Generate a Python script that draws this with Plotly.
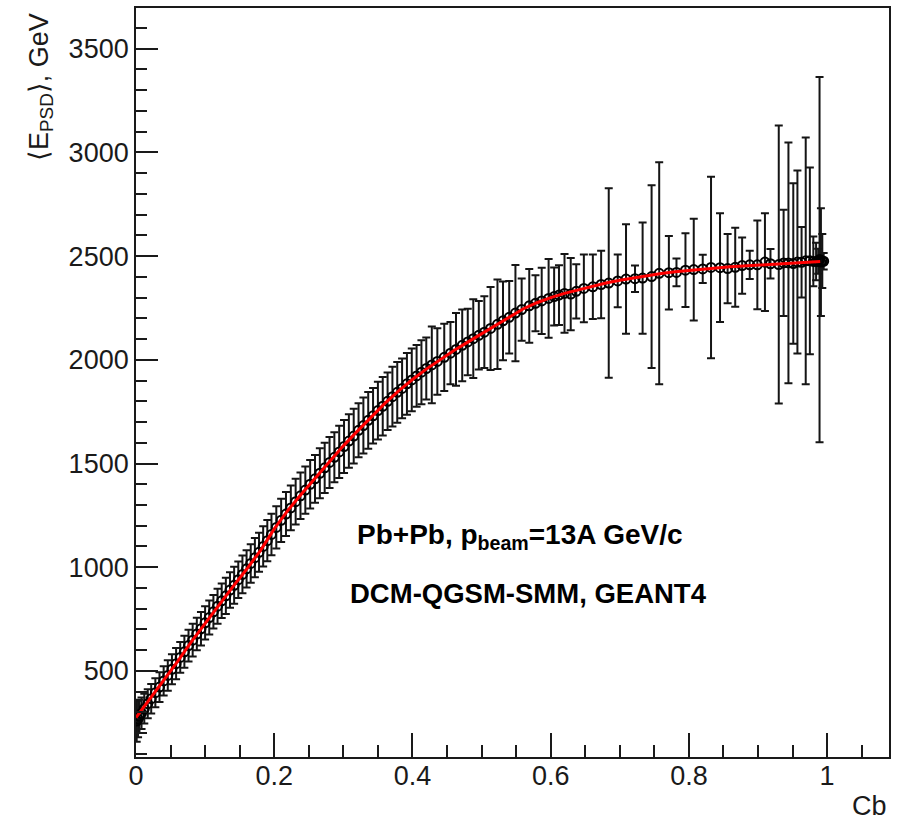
import plotly.graph_objects as go

# ---- data ----
cb_values = [
    0.001, 0.003, 0.005, 0.008, 0.012, 0.017, 0.022, 0.028, 0.034, 0.040,
    0.046, 0.052, 0.058, 0.064, 0.070, 0.076, 0.082, 0.088, 0.094, 0.100,
    0.106, 0.112, 0.118, 0.124, 0.130, 0.136, 0.142, 0.148, 0.154, 0.160,
    0.166, 0.172, 0.178, 0.184, 0.190, 0.196,
    0.203, 0.210, 0.217, 0.224, 0.231, 0.238, 0.245, 0.252, 0.259, 0.266,
    0.273, 0.280, 0.287, 0.294, 0.301, 0.308, 0.315, 0.322, 0.329, 0.336,
    0.343, 0.350, 0.357, 0.364, 0.371, 0.378, 0.385, 0.392, 0.399, 0.406,
    0.413,
    0.420, 0.428, 0.436, 0.446, 0.455, 0.463, 0.472, 0.480, 0.488, 0.496,
    0.504, 0.513, 0.523, 0.531, 0.540, 0.549, 0.558, 0.569, 0.578, 0.587,
    0.597, 0.605, 0.612, 0.620, 0.629,
    0.637, 0.648, 0.661, 0.673, 0.684, 0.697, 0.709, 0.722, 0.733, 0.746,
    0.757, 0.771, 0.782, 0.795, 0.807, 0.820, 0.832, 0.845, 0.856, 0.867,
    0.877, 0.888, 0.899, 0.910, 0.918, 0.930, 0.937, 0.944, 0.951, 0.957,
    0.963, 0.969, 0.975, 0.980, 0.984, 0.987, 0.989, 0.991, 0.993, 0.995,
]
e_psd_mean = [
    258, 268, 281, 296, 318, 342, 366, 395, 422, 452,
    478, 508, 535, 565, 592, 622, 648, 678, 703, 732,
    757, 785, 812, 838, 862, 890, 913, 940, 965, 992,
    1018, 1046, 1072, 1100, 1128, 1158,
    1192, 1226, 1256, 1286, 1316, 1344, 1372, 1400, 1426, 1453,
    1479, 1505, 1530, 1556, 1582, 1608, 1632, 1660, 1683, 1708,
    1730, 1755, 1776, 1800, 1822, 1843, 1862, 1884, 1903, 1922,
    1940,
    1958, 1975, 1992, 2012, 2032, 2050, 2070, 2086, 2102, 2118,
    2133, 2151, 2171, 2188, 2205, 2225, 2242, 2260, 2272, 2284,
    2296, 2305, 2312, 2320, 2317,
    2330, 2344, 2352, 2363, 2370, 2380, 2389, 2391, 2394, 2401,
    2417, 2420, 2421, 2432, 2435, 2438, 2445, 2444, 2440, 2446,
    2454, 2458, 2458, 2471, 2463, 2459, 2467, 2467, 2464, 2471,
    2470, 2477, 2477, 2474, 2474, 2475, 2483, 2471, 2476, 2475,
]
e_psd_err = [
    100, 88, 80, 76, 72, 70, 71, 70, 72, 71,
    73, 72, 75, 74, 77, 76, 79, 78, 81, 80,
    82, 81, 84, 83, 87, 86, 89, 88, 91, 90,
    93, 95, 94, 97, 99, 100,
    102, 104, 106, 108, 110, 112, 114, 117, 115, 120,
    121, 123, 121, 126, 128, 129, 132, 130, 135, 137,
    134, 139, 141, 139, 144, 146, 144, 149, 151, 149,
    154,
    150, 185, 160, 162, 150, 175, 173, 160, 190, 165,
    173, 200, 216, 190, 175, 232, 150, 178, 135, 160,
    190, 140, 144, 190, 174,
    131, 163, 155, 163, 457, 127, 264, 64, 268, 441,
    535, 177, 67, 178, 245, 68, 438, 262, 167, 190,
    136, 68, 214, 236, 71, 670, 256, 580, 387, 441,
    170, 595, 450, 120, 90, 60, 880, 260, 130, 40,
]

fit_cb = [
    0.00, 0.02, 0.04, 0.06, 0.08, 0.10, 0.12, 0.14, 0.16, 0.18,
    0.20, 0.22, 0.24, 0.26, 0.28, 0.30, 0.32, 0.34, 0.36, 0.38,
    0.40, 0.42, 0.44, 0.46, 0.48, 0.50, 0.52, 0.54, 0.56, 0.58,
    0.60, 0.62, 0.64, 0.66, 0.68, 0.70, 0.72, 0.74, 0.76, 0.78,
    0.80, 0.82, 0.84, 0.86, 0.88, 0.90, 0.92, 0.94, 0.96, 0.98, 0.99,
]
fit_e = [
    275, 365, 450, 545, 640, 730, 820, 905, 990, 1080,
    1185, 1275, 1355, 1432, 1507, 1585, 1655, 1725, 1790, 1850,
    1905, 1955, 2000, 2045, 2085, 2125, 2165, 2205, 2245, 2275,
    2300, 2320, 2337, 2355, 2370, 2383, 2395, 2406, 2416, 2424,
    2431, 2437, 2443, 2448, 2452, 2456, 2460, 2464, 2468, 2472, 2474,
]

x_ticks = [0, 0.2, 0.4, 0.6, 0.8, 1]
x_tick_labels = ["0", "0.2", "0.4", "0.6", "0.8", "1"]
y_ticks = [500, 1000, 1500, 2000, 2500, 3000, 3500]
y_tick_labels = ["500", "1000", "1500", "2000", "2500", "3000", "3500"]

FONT = "Liberation Sans, Arial, Helvetica, sans-serif"
INK = "#1a1a1a"

fig = go.Figure()
fig.add_trace(go.Scatter(
    x=cb_values, y=e_psd_mean,
    mode="markers",
    marker=dict(symbol="circle-open", size=9, color="black", line=dict(width=2, color="black")),
    error_y=dict(type="data", array=e_psd_err, visible=True, color="#151515", thickness=2, width=4),
    showlegend=False,
))
fig.add_trace(go.Scatter(
    x=fit_cb, y=fit_e, mode="lines",
    line=dict(color="#ff0000", width=3),
    showlegend=False,
))

fig.update_layout(
    width=897, height=821,
    margin=dict(l=136, r=6, t=6, b=64),
    paper_bgcolor="white", plot_bgcolor="white",
    font=dict(family=FONT, size=27, color=INK),
)
fig.update_xaxes(
    range=[0, 1.0895],
    tickmode="array", tickvals=x_ticks, ticktext=x_tick_labels,
    ticks="inside", ticklen=24, tickwidth=1.6, tickcolor=INK,
    minor=dict(ticks="inside", ticklen=12, dtick=0.05, tick0=0, tickwidth=1.6, tickcolor=INK),
    showline=True, linecolor=INK, linewidth=1.8, mirror=True,
    showgrid=False, zeroline=False, ticklabelstandoff=-6,
    tickfont=dict(size=27, family=FONT, color=INK),
)
fig.update_yaxes(
    range=[85, 3696],
    tickmode="array", tickvals=y_ticks, ticktext=y_tick_labels,
    ticks="inside", ticklen=22, tickwidth=1.6, tickcolor=INK,
    minor=dict(ticks="inside", ticklen=11, dtick=100, tick0=0, tickwidth=1.6, tickcolor=INK),
    showline=True, linecolor=INK, linewidth=1.8, mirror=True,
    showgrid=False, zeroline=False,
    tickfont=dict(size=27, family=FONT, color=INK),
)

# axis titles (ROOT-style placement)
fig.add_annotation(
    text="Cb", xref="paper", yref="paper",
    x=1.0, y=-0.065, xanchor="right", yanchor="middle",
    showarrow=False, font=dict(size=27, family=FONT, color=INK),
)
fig.add_annotation(
    text="\u27e8E<sub>PSD</sub>\u27e9, GeV", xref="paper", yref="paper",
    x=-0.127, y=0.895, xanchor="center", yanchor="middle", textangle=-90,
    showarrow=False, font=dict(size=27, family=FONT, color=INK),
)
fig.add_annotation(
    text="<b>Pb+Pb, p<sub>beam</sub>=13A GeV/c</b>", xref="paper", yref="paper",
    x=(521 - 136) / 755, y=(757 - 536) / 751, xanchor="center", yanchor="middle",
    showarrow=False, font=dict(size=28, family=FONT, color="black"),
)
fig.add_annotation(
    text="<b>DCM-QGSM-SMM, GEANT4</b>", xref="paper", yref="paper",
    x=(530 - 136) / 755, y=(757 - 593) / 751, xanchor="center", yanchor="middle",
    showarrow=False, font=dict(size=27.5, family=FONT, color="black"),
)

fig.write_html("out.html", config={"displayModeBar": False},
               post_script="document.body.style.margin='0';")
